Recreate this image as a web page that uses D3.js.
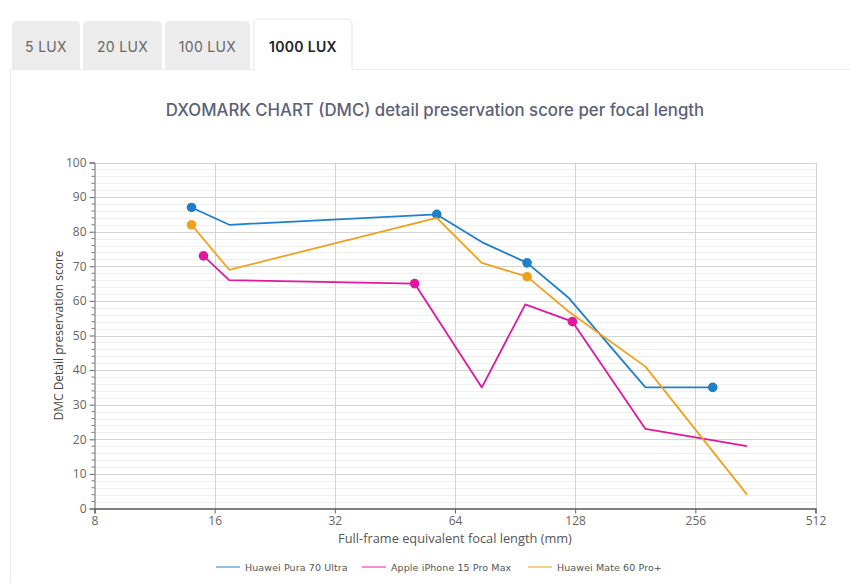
<!DOCTYPE html>
<html><head><meta charset="utf-8">
<script src="https://cdn.jsdelivr.net/npm/d3@7"></script>
<style>
body{margin:0;background:#fff;font-family:"Open Sans",sans-serif;}
svg{display:block;}
</style></head>
<body>
<svg id="c" width="850" height="583"></svg>
<script>
const tabs = ["5 LUX","20 LUX","100 LUX","1000 LUX"];
const activeTab = 3;
const title = "DXOMARK CHART (DMC) detail preservation score per focal length";
const xTicks = [8,16,32,64,128,256,512];
const yTicks = [0,10,20,30,40,50,60,70,80,90,100];
const seriesNames = ["Huawei Pura 70 Ultra","Apple iPhone 15 Pro Max","Huawei Mate 60 Pro+"];
const seriesColors = ["#1f7fc8","#e0189e","#efa11e"];
const puraX = [14,17.4,57.6,74.7,97,123,192,283];
const puraY = [87,82,85,77,71,61,35,35];
const puraMarkers = [1,0,1,0,1,0,0,1];
const iphoneX = [15,17.4,50.7,74.7,96,126,192,345];
const iphoneY = [73,66,65,35,59,54,23,18];
const iphoneMarkers = [1,0,1,0,0,1,0,0];
const mateX = [14,17.4,57.6,74.7,97,123,192,345];
const mateY = [82,69,84,71,67,57,41,4];
const mateMarkers = [1,0,0,0,1,0,0,0];

const series = [
  {name:seriesNames[0],color:seriesColors[0],x:puraX,y:puraY,m:puraMarkers},
  {name:seriesNames[1],color:seriesColors[1],x:iphoneX,y:iphoneY,m:iphoneMarkers},
  {name:seriesNames[2],color:seriesColors[2],x:mateX,y:mateY,m:mateMarkers}
];

const svg = d3.select("#c");

// tabs
const tabX = [12,83,165,254], tabW=[68,79,85,98];
tabs.forEach((t,i)=>{
  const act = i===activeTab;
  const x0=tabX[i], w=tabW[i], y0=act?19:21, y1=70, r=5;
  svg.append("path")
    .attr("d",`M${x0},${y1} L${x0},${y0+r} Q${x0},${y0} ${x0+r},${y0} L${x0+w-r},${y0} Q${x0+w},${y0} ${x0+w},${y0+r} L${x0+w},${y1}`)
    .attr("fill",act?"#fff":"#ececec").attr("stroke",act?"#e6e6e6":"none");
  svg.append("text").attr("x",x0+w/2).attr("y",52).attr("text-anchor","middle")
    .attr("font-family","Inter, 'Open Sans', sans-serif").attr("font-size",14)
    .attr("font-weight",act?600:400).attr("letter-spacing",0.3)
    .attr("fill",act?"#222":"#666").text(t);
});
// panel border
svg.append("path").attr("d","M10.5,583 L10.5,69.5 L254,69.5 M352,69.5 L850,69.5")
  .attr("fill","none").attr("stroke","#eaeaea");

svg.append("text").attr("x",435).attr("y",116).attr("text-anchor","middle")
  .attr("font-family","Inter, 'Open Sans', sans-serif").attr("font-size",16.8).attr("font-weight",500)
  .attr("fill","#5c6178").text(title);

const L=94.5,R=815.5,T=162.5,B=508.5;
const x = d3.scaleLog().base(2).domain([8,512]).range([L,R]);
const y = d3.scaleLinear().domain([0,100]).range([B,T]);

// minor grid
const minor = d3.range(0,101,2).filter(v=>v%10!==0);
svg.append("g").selectAll("line").data(minor).join("line")
  .attr("x1",L).attr("x2",R).attr("y1",d=>Math.round(y(d))+0.5).attr("y2",d=>Math.round(y(d))+0.5)
  .attr("stroke","#efefef");
svg.append("g").selectAll("line").data(yTicks.filter(v=>v>0)).join("line")
  .attr("x1",L).attr("x2",R).attr("y1",d=>Math.round(y(d))+0.5).attr("y2",d=>Math.round(y(d))+0.5)
  .attr("stroke","#d4d4d4");
svg.append("g").selectAll("line").data(xTicks.slice(1)).join("line")
  .attr("y1",T).attr("y2",B).attr("x1",d=>Math.round(x(d))+0.5).attr("x2",d=>Math.round(x(d))+0.5)
  .attr("stroke","#d4d4d4");

// axes
const yAxis = svg.append("g").attr("transform",`translate(${L},0)`)
  .call(d3.axisLeft(y).tickValues(yTicks).tickSize(5).tickPadding(3));
yAxis.select(".domain").attr("stroke","#666");
yAxis.selectAll(".tick line").attr("stroke","#666");
yAxis.selectAll("text").attr("font-size",12).attr("fill","#666").attr("font-family","'Open Sans', sans-serif");
svg.append("g").selectAll("line").data(minor).join("line")
  .attr("x1",L-3).attr("x2",L).attr("y1",d=>y(d)).attr("y2",d=>y(d)).attr("stroke","#777");

const xAxis = svg.append("g").attr("transform",`translate(0,${B})`)
  .call(d3.axisBottom(x).tickValues(xTicks).tickFormat(d3.format("d")).tickSize(5).tickPadding(3));
xAxis.select(".domain").attr("stroke","#555").attr("stroke-width",1.3);
xAxis.selectAll(".tick line").attr("stroke","#666");
xAxis.selectAll("text").attr("font-size",12).attr("fill","#666").attr("font-family","'Open Sans', sans-serif");

svg.append("text").attr("x",455).attr("y",543).attr("text-anchor","middle")
  .attr("font-size",12.8).attr("fill","#555").text("Full-frame equivalent focal length (mm)");
svg.append("text").attr("transform",`translate(63,${(T+B)/2}) rotate(-90)`).attr("text-anchor","middle")
  .attr("font-size",12).attr("fill","#444").text("DMC Detail preservation score");

// lines
const line = d3.line().x(d=>x(d[0])).y(d=>y(d[1]));
series.forEach(s=>{
  const pts = s.x.map((v,i)=>[v,s.y[i],s.m[i]]);
  svg.append("path").datum(pts).attr("d",line).attr("fill","none")
    .attr("stroke",s.color).attr("stroke-width",1.8).attr("stroke-linejoin","round");
  svg.append("g").selectAll("circle").data(pts.filter(p=>p[2])).join("circle")
    .attr("cx",d=>x(d[0])).attr("cy",d=>y(d[1])).attr("r",4.8).attr("fill",s.color);
});

// legend
const lgX=[216,362,528];
series.forEach((s,i)=>{
  svg.append("line").attr("x1",lgX[i]).attr("x2",lgX[i]+24).attr("y1",567).attr("y2",567)
    .attr("stroke",s.color).attr("stroke-opacity",0.65).attr("stroke-width",1.5);
  svg.append("text").attr("x",lgX[i]+29).attr("y",570.5).attr("font-size",9.5)
    .attr("font-family","'DejaVu Sans', sans-serif").attr("letter-spacing",0.1)
    .attr("fill","#555").text(s.name);
});
</script>
</body></html>
